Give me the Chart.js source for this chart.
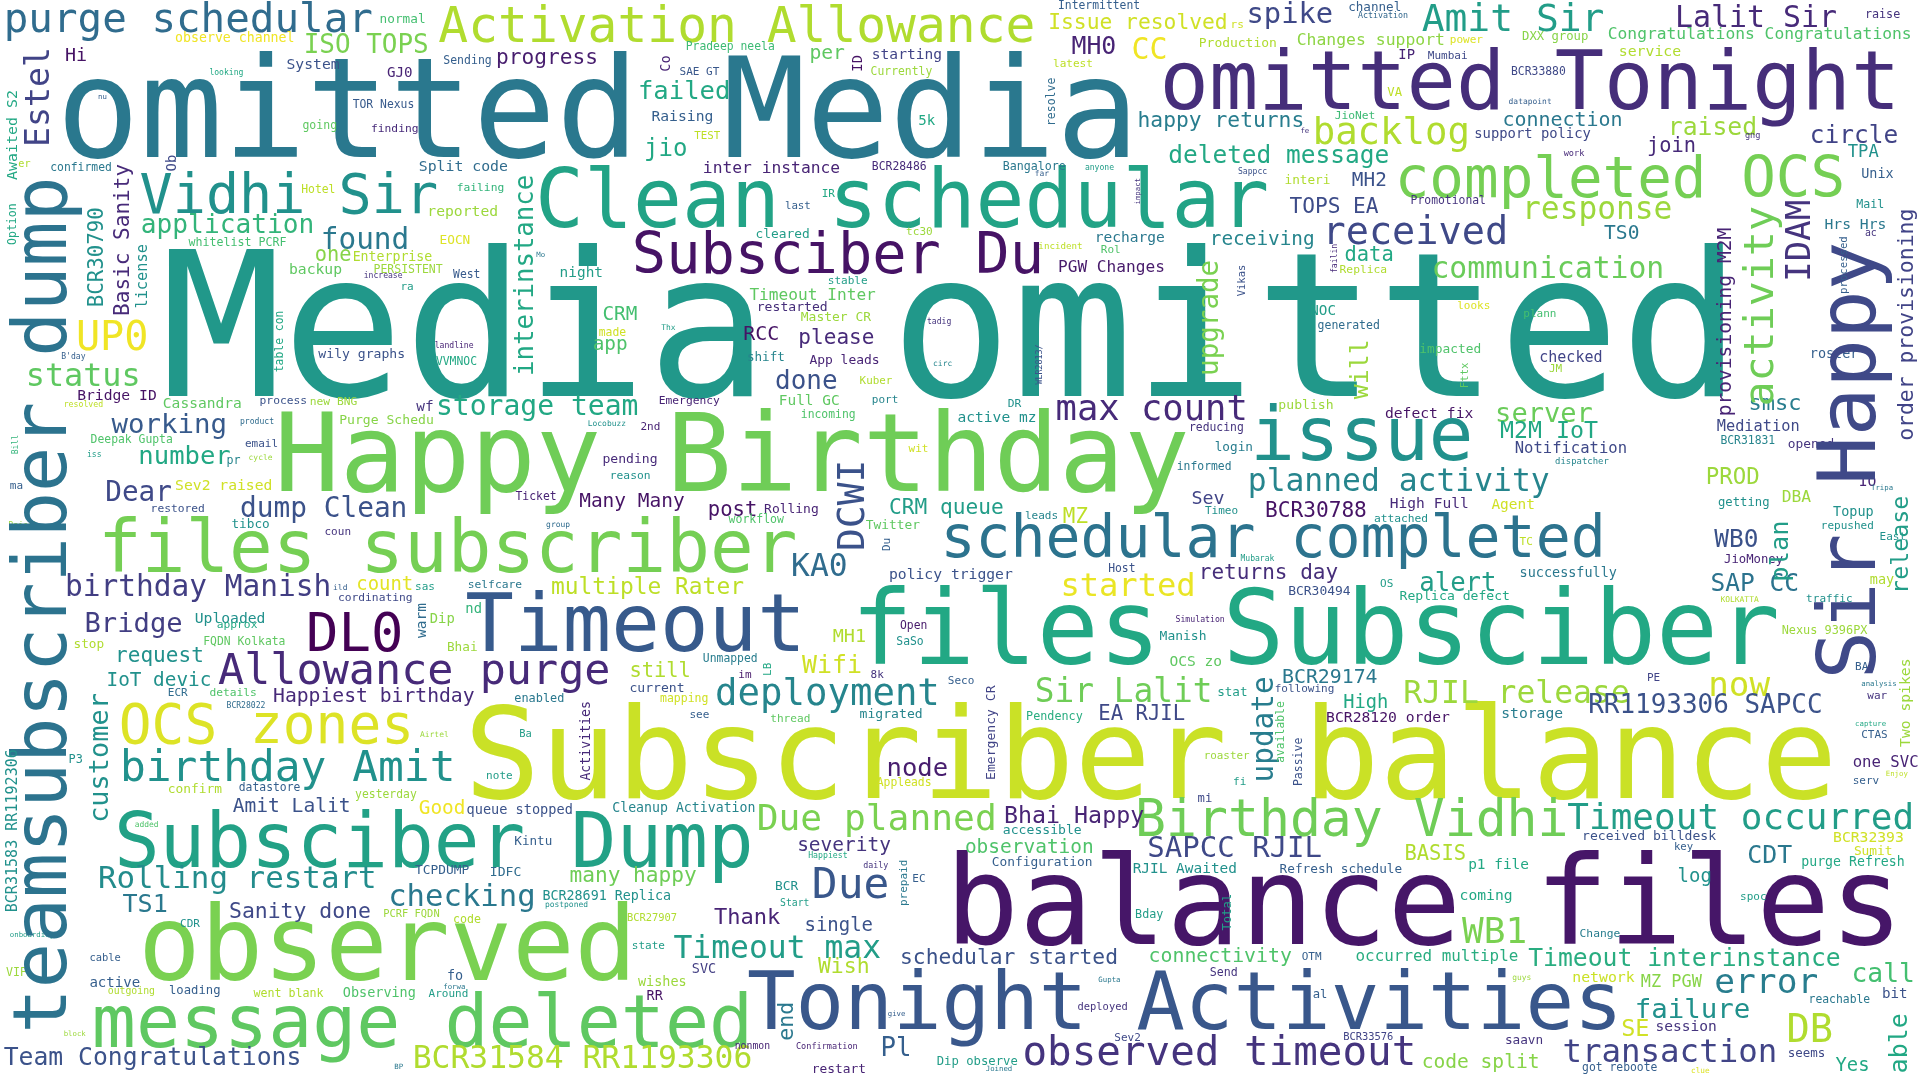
<!DOCTYPE html>
<html>
<head>
<meta charset="utf-8">
<script src="https://cdn.jsdelivr.net/npm/chart.js@4.4.0/dist/chart.umd.min.js"></script>
<style>
html,body{margin:0;padding:0;background:#ffffff;overflow:hidden;}
#c{display:block;}
</style>
</head>
<body>
<canvas id="c" width="1920" height="1080"></canvas>
<script>
// ---- Word cloud data (cloud layout units: 0..1568 wide, 0..882 tall) ----
// Horizontal words
const hWords = [
"Media omitted","omitted Media","Subscriber balance","balance files","Happy Birthday","files Subsciber","observed","omitted Tonight","Clean schedular","Timeout",
"Tonight Activities","Subsciber Dump","issue","files subscriber","message deleted","schedular completed","completed OCS","Subsciber Du","Vidhi Sir","OCS zones",
"DL0","Activation Allowance","Birthday Vidhi","Amit Sir","birthday Amit","Allowance purge","purge schedular","observed timeout","Due","UP0",
"max count","DB","received","backlog","deployment","Due planned","Timeout occurred","WB1","error","now",
"started","Sir Lalit","status","transaction","KA0","planned activity","RJIL release","response","BCR31584 RR1193306","Timeout max",
"Rolling restart","checking","Lalit Sir","communication","birthday Manish","CC","found","SAPCC RJIL","spike","storage team",
"dump Clean","Dear","working","failure","Bridge","server","call","application","done","ISO TOPS",
"RR1193306 SAPCC","alert","failed","number","node","TS1","MH0","CDT","Wifi","Team Congratulations",
"Timeout interinstance","raised","circle","WB0","SAP CC","deleted message","Thank","jio","SE","Bhai Happy",
"M2M IoT","multiple Rater","PROD","smsc","Sanity done","Wish","schedular started","happy returns","Issue resolved","many happy",
"TOPS EA","BCR30788","CRM queue","progress","returns day","please","request","post","EA RJIL","MZ",
"still","BASIS","data","join","one","RCC","connection","connectivity","BCR29174","Happiest birthday",
"per","TS0","code split","Amit Lalit","Many Many","severity","observation","CRM","app","MH2",
"Good","IoT devic","receiving","log","single","count","Yes","High","MH1","Sev",
"Hi","TPA","MZ PGW","Changes support","Congratulations Congratulations","inter instance","DBA","PGW Changes","Timeout Inter","occurred multiple",
"Notification","one SVC","Mediation","checked","service","Split code","network","Hrs Hrs","System","reported",
"backup","Bridge ID","Sev2 raised","defect fix","policy trigger","Raising","Uploaded","BCR32393","coming","storage",
"BCR28120 order","starting","recharge","Cassandra","active mz","High Full","OCS zo","session","GJ0","night",
"Agent","Full GC","p1 file","RJIL Awaited","NOC","bit","5k","active","nd","Dip",
"IP","support policy","queue stopped","successfully","roster","Topup","Unix","may","Observing","fo",
"RR","wishes","SVC","BCR28691 Replica","Cleanup Activation","Enterprise","received billdesk","wily graphs","Purge Schedu","restarted",
"pending","publish","current","migrated","Replica defect","purge Refresh","BCR30494","Manish","Master CR","App leads",
"Rolling","Production","Twitter","cleared","impacted","confirm","TCPDUMP","Sumit","opened","Configuration",
"accessible","Refresh schedule","normal","EOCN","interi","tibco","login","stop","Bhai","saavn",
"channel","shift","stat","Kintu","seems","IDFC","observe channel","getting","JioMoney","DXX group",
"Pendency","enabled","Nexus 9396PX","raise","Mail","Bangalore","P3","going","Sending","PERSISTENT",
"generated","workflow","mapping","whitelist PCRF","confirmed","TOR Nexus","Hotel","West","Pradeep neela","Currently",
"BCR28486","Intermittent","BCR33880","Promotional","VVMNOC","Deepak Gupta","FQDN Kolkata","datastore","yesterday","Unmapped",
"Open","SaSo","Appleads","Ticket","reducing","informed","Host","made","got reboote","reachable",
"BCR31831","finding","failing","process","new BNG","cordinating","approx","details","restored","Emergency",
"reason","JioNet","Replica","attached","Change","selfcare","thread","latest","power","Mumbai",
"SAE GT","stable","tc30","IR","Rol","email","ma","coun","sas","ECR",
"note","Kuber","port","DR","incoming","2nd","wit","leads","Timeo","looks",
"plann","JM","TC","OS","im","8k","Seco","see","following","fi",
"roaster","spoc","key","TEST","last","Ba","Thx","looking","increase","B'day",
"resolved","landline","product","iss","cycle","Rajesh","datapoint","anyone","Sappcc","Activation",
"incident","tadig","circ","Locobuzz","group","Mubarak","Simulation","BCR28022","Airtel","added",
"Happiest","daily","guys","clue","work","fe","far","Mo","nu","er",
"ra","rs","VA","ild","wf","pr","EC","BCR","Start","state",
"BCR27907","postponed","CDR","PCRF FQDN","code","cable","VIP","outgoing","loading","went blank",
"Around","Dip observe","deployed","Sev2","Send","OTM","al","Bday","BCR33576","nonmon",
"Confirmation","restart","Pl","mi","gng","ac","IO","repushed","East","KOLKATTA",
"traffic","BAU","PE","war","CTAS","serv","analysis","capture","Enjoy","Tripa",
"Gupta","Joined","give","onboarding","block","BP","forwa","dispatcher"
];
const hX = [
131,46,379,772,224,695,113,947,437,380,
610,93,1021,80,75,768,1139,516,114,97,
250,358,927,1161,98,178,3,835,663,62,
862,1459,1080,1072,584,618,1280,1194,1400,1395,
866,845,21,1276,646,1019,1146,1243,337,550,
80,317,1368,1169,53,924,262,937,1018,356,
196,86,91,1335,69,1221,1512,115,633,248,
1297,1159,521,113,724,100,875,1427,655,3,
1248,1362,1478,1400,1397,954,583,526,1324,820,
1225,450,1393,1428,187,668,735,929,856,465,
1053,1033,726,405,979,652,94,578,897,868,
514,1147,1098,1345,257,607,1227,938,1047,223,
661,1310,1161,190,473,651,788,492,484,1104,
342,87,988,1370,657,291,1499,1097,680,973,
53,1509,1340,1059,1313,574,1455,864,612,1107,
1237,1513,1402,1257,1322,342,1284,1490,234,349,
236,63,143,1131,726,532,159,1497,1192,1226,
1083,712,894,133,782,1135,955,1352,316,457,
1218,636,1199,925,1070,1537,750,73,380,351,
1142,1204,381,1241,1478,1497,1520,1527,280,365,
528,521,565,443,500,288,1292,260,277,618,
492,1044,514,702,1143,1471,1052,947,654,661,
624,979,707,617,1159,137,339,1514,1460,810,
819,1045,310,359,1049,189,992,60,365,1229,
1101,610,994,420,1460,400,143,1403,1408,1243,
838,420,1455,1523,1516,819,56,247,362,305,
1076,595,539,154,41,288,246,370,560,711,
712,864,1234,1152,356,74,166,195,290,574,
735,732,716,421,971,961,905,489,1292,1477,
1405,303,373,212,253,276,177,171,123,538,
498,1090,1094,1122,1290,382,629,860,1184,1166,
555,676,740,671,899,200,8,265,339,137,
397,702,712,823,654,523,742,837,984,1190,
1244,1265,1241,1127,603,711,774,563,1041,1007,
983,1421,1367,567,641,424,540,171,297,50,
52,355,196,71,203,7,1232,886,1011,1109,
848,757,762,480,446,1013,960,185,343,110,
660,705,1235,1381,1277,1062,845,438,80,15,
327,1005,1133,272,340,185,745,633,637,516,
512,445,147,313,370,73,5,88,138,207,
350,765,880,910,988,1063,1072,927,1097,600,
650,663,719,978,1425,1523,1518,1487,1535,1405,
1475,1515,1345,1525,1520,1513,1520,1515,1540,1528,
897,805,725,8,52,322,362,1270
];
const hY = [
323,128,652,771,401,542,800,89,185,532,
840,708,376,467,855,455,161,223,174,607,
532,34,683,25,638,559,26,870,733,286,
343,851,199,118,576,678,677,770,811,568,
487,573,315,867,470,401,574,179,872,782,
725,740,22,227,487,48,203,700,19,339,
422,409,354,831,516,345,802,190,318,43,
582,483,81,379,634,745,44,705,550,870,
789,110,117,447,483,133,755,127,846,672,
358,485,395,335,750,795,787,104,24,720,
174,422,420,52,473,281,541,421,588,427,
553,702,213,124,213,278,103,786,558,573,
48,195,872,663,414,695,697,261,286,152,
665,560,200,720,760,482,875,578,524,412,
50,128,806,37,32,141,410,222,245,785,
370,626,352,296,46,140,802,187,56,176,
224,327,400,341,473,99,509,688,735,586,
590,48,198,333,345,415,544,842,63,226,
416,331,710,713,257,815,102,806,501,509,
48,113,665,471,292,421,145,477,814,800,
817,805,795,735,663,213,686,292,346,254,
378,334,565,586,490,707,486,523,262,297,
419,38,432,194,288,648,714,698,366,707,
681,713,18.5,199.5,150,431,368,529,532,853,
9,295,568,690,863,715,34,413,460,33,
588,573,518,15,170,139,623,105,52,223,
269,427,573,201,140,88.5,158,227,41,61,
139,7,61,167,298,362,527,646,652,541,
514,527,642,408,352,384,467,274,875,819,
363,108,156,330,331,491,513,568,418,330,
391,97,223,426,765,480,590,55,35,48.5,
61,232,192,161,207,365,399,437,482,568,
636,314,329,332,341,351,369,424,420,252,
259,304,445,479,554,554,559,586,565,641,
620,735,694,113.5,171,602,269.5,61,227,293,
332,284,346,373.5,376,431,85,139,142,15,
203,265,299,348,430,458,508,578,602,675,
701,709,800,876,127,109,144,210,81,136,
237,23,78,482,336,379,720,727,740,775,
752,741,757,749,754,785,797,812,812,814,
814,870,825,850,797,784,815,750,849,857,
857,876,862,655,113,193,397,432,441,492,
492,547,556,571,603,640,560,593,634,400,
802,875,830,765,846,873,808,379
];
// word weight = font size in cloud units
const hSize = [
165,113,103.5,100,88.7,84,84.5,67,66.4,66,
66,62,60.6,59.3,59.8,47.5,47,46.6,45,44.5,
44,40.5,42,31,35,35.5,33.4,33.4,35,32.8,
29,31.6,31.5,30.5,30.5,29.6,29.4,29.4,28.2,28,
26.2,26.8,26,26.5,25.6,25.6,25.6,25.5,25.6,25.6,
25.2,25,24.4,24.3,24.1,24.4,24,23.7,23.5,22.9,
22.7,22.6,22.4,22.4,22.2,22.1,21.5,21.4,21.2,21.2,
21.2,21,20.9,20.9,20.9,20.5,20.3,20.3,20.3,20.2,
20.2,20.2,20,20,20,20,18,19.6,19.2,19,
19,18.7,18.3,18,17.5,17.5,17.4,17.4,17.4,17.3,
17.3,17.3,17.3,17.3,17.2,17.2,17.2,16.8,16.8,17,
16.7,16.7,16.7,16.6,16.6,16.3,16.3,16.2,16.2,16.1,
16.1,16,16,16,15.9,15.9,15.9,15.8,15.8,15.8,
15.8,15.8,15.8,15.5,15.5,15.4,15.4,15.3,15.1,15,
15,14,13.8,13.4,13.3,13.3,13.3,13.2,13.2,13,
12.7,12.8,12.5,12.3,12.1,12.1,12.1,12,12,12,
12,12,12,12,12,12,12,12,12,12,
12,11.9,11.9,11.9,11.9,11.9,11.9,11.9,11.6,11.8,
11.8,11.8,11.8,11.8,11.7,11.6,11.5,11.5,11.3,11.3,
11.3,11.3,11.1,11,11,11,11,11,11,11,
11,11,11,10.9,10.8,10.8,10.7,10.7,10.7,10.7,
10.7,10.7,10.7,10.7,10.7,10.8,10.6,10.6,10.6,10.6,
10.6,10.6,10.5,10.5,10.5,10.5,10.5,10.5,10.5,10.5,
10.7,10.4,10.4,10.4,10.4,10.4,10.4,10.4,10.4,10.4,
10.3,10.3,10.3,10.3,10.2,10.7,10.8,10,10,10,
9.6,9.7,9.7,9.6,9.5,9.5,9.7,9.4,9.4,9.4,
9.4,9.4,9.4,9.5,9.3,9.3,9.3,9.3,9.3,9.3,
9.3,9.3,9.3,9.3,9.3,9.3,9.3,9.3,9.3,9.3,
9.3,9.3,9.3,9.3,9.3,9.3,9.3,9.3,9.3,9.3,
9.3,9.2,9.2,9.2,9.2,9.2,9.2,9.2,9.2,9.2,
9.2,9.2,9.2,9.2,9.2,9.2,9.1,9,9,9,
9,9,9,9,9,9,9,9,9,9,
9,8.9,9,9.2,9.3,9,9,9,9,9,
9,9,9,9,9,9,9,9,9,9,
8.9,9,8.7,8.8,8.8,8.5,6.5,6.6,6.6,6.6,
6.7,6.6,6.6,6.6,6.5,6.6,6.5,6.6,6.6,6.8,
7.5,6.6,6.5,6.5,6.5,6.6,6.7,6.6,6.5,6.5,
6.7,6.8,6.5,6.3,7,6,6.5,6,6,8.3,
9,9,10,6.5,11.8,9.5,9,10.5,8,9,
8.5,6.5,9,8.5,9.5,8.5,9.5,8,10,9.5,
9,10,8.5,9,9.5,9,10,9.6,8.5,8,
7,10.5,21,10,7,8,12,9,9,6.5,
9,9,9,9,9,9,6,6,6,6,
6,6,6,6,6,6,6,7.3
];
// colour-map position (0..1 on viridis) of each word
const hTone = [
.53,.40,.92,.06,.78,.60,.80,.13,.58,.28,
.27,.57,.50,.79,.75,.38,.79,.05,.50,.95,
0,.88,.78,.55,.50,.12,.35,.15,.27,.98,
.12,.88,.22,.88,.45,.80,.55,.80,.42,.93,
.97,.78,.75,.20,.35,.45,.85,.85,.88,.55,
.48,.40,.12,.77,.18,.98,.40,.22,.22,.60,
.25,.22,.28,.50,.18,.77,.70,.65,.25,.80,
.25,.55,.60,.60,.08,.40,.10,.40,.93,.25,
.62,.85,.20,.25,.38,.60,.10,.60,.93,.10,
.60,.90,.85,.42,.22,.88,.25,.42,.93,.78,
.23,.05,.55,.08,.13,.12,.50,.05,.22,.90,
.88,.88,.60,.12,.82,.05,.40,.72,.40,.12,
.75,.40,.82,.25,.05,.15,.72,.70,.72,.25,
.98,.50,.45,.50,.25,.96,.60,.60,.88,.20,
.05,.50,.82,.83,.72,.10,.85,.07,.75,.62,
.22,.10,.22,.20,.88,.35,.92,.40,.25,.85,
.75,.05,.93,.05,.25,.30,.50,.93,.60,.42,
.05,.20,.40,.75,.50,.12,.75,.15,.10,.55,
.93,.75,.60,.50,.55,.25,.60,.30,.65,.82,
.10,.22,.25,.40,.30,.50,.30,.88,.72,.30,
.05,.85,.18,.50,.45,.88,.25,.25,.82,.13,
.12,.85,.25,.45,.60,.60,.25,.50,.85,.10,
.10,.88,.75,.55,.72,.88,.30,.93,.15,.30,
.50,.30,.70,.95,.88,.50,.42,.88,.85,.15,
.30,.45,.55,.30,.22,.35,.98,.50,.10,.82,
.62,.40,.85,.15,.50,.40,.50,.75,.30,.85,
.35,.72,.93,.70,.40,.28,.90,.28,.68,.85,
.12,.30,.22,.15,.60,.72,.75,.30,.85,.42,
.07,.50,.93,.10,.15,.40,.25,.93,.30,.40,
.45,.12,.65,.25,.85,.22,.60,.72,.25,.10,
.50,.68,.88,.50,.42,.40,.75,.90,.95,.22,
.27,.55,.85,.60,.72,.25,.30,.15,.55,.35,
.55,.88,.45,.50,.72,.10,.93,.45,.50,.95,
.70,.85,.90,.55,.07,.15,.30,.30,.25,.55,
.85,.55,.30,.90,.30,.55,.55,.60,.15,.30,
.90,.10,.35,.55,.85,.85,.30,.55,.25,.33,
.90,.15,.45,.50,.35,.55,.10,.35,.85,.72,
.60,.15,.85,.95,.12,.15,.30,.40,.30,.88,
.55,.93,.90,.30,.15,.45,.30,.50,.55,.55,
.88,.50,.50,.85,.88,.30,.85,.88,.30,.88,
.55,.55,.15,.22,.15,.30,.30,.55,.20,.10,
.10,.10,.30,.22,.15,.15,.10,.50,.50,.88,
.50,.30,.20,.15,.30,.30,.40,.60,.90,.40,
.40,.40,.30,.55,.85,.40,.40,.45
];
// Vertical words (read bottom to top); x = baseline, y = start of word
const vWords = [
"teamsubscriber dump","Sir Happy","activity","DCWI","IDAM","Estel","update","upgrade","customer","interinstance",
"plan","will","able","release","order provisioning","end","Basic Sanity","BCR30790","provisioning M2M","license",
"BCR31583 RR1192306","Awaited S2","Two spikes","warm","ID","Ob","Co","Activities","Emergency CR","Option",
"resolve","Passive","available","table con","prepaid","Du","LB","Fttx","processed","Vikas",
"Total","WLR2813/","failin","impact","Bill"
];
const vX = [
53.6,1531,1448,706,1478,40,1040,994.5,88.5,435,
1460,1117.5,1557,1558,1562,648,105,84,1414,120,
13.6,13.6,1560,348,703.7,144,547,482,812.6,13,
861.7,1063.6,1049,231,741,727,630,1199,1508,1017,
1005,851,1092,931,15
];
const vY = [
844,555,332,450,230,120,639,307,672,307,
475,326,876.5,485,360,850,258,251,340,252,
745,147,610,521,58.5,140,58.5,637.5,637,200,
103,642,623,304,740,450,552,317,240,242,
760,314,223,167,371
];
const vSize = [
61.2,66,34,31,27.8,27.1,24,22.5,22,21,
20.7,20.3,20.3,19,17.5,17.7,17.2,17,16,12.5,
12.3,12.2,12,11.9,11.3,11.3,11,10.8,10.7,9.4,
9.4,9.4,9.3,9.3,9,9,9,8.7,8.7,8.6,
10,6.8,6.6,6,6.6
];
const vTone = [
.38,.22,.78,.25,.15,.20,.42,.80,.50,.60,
.55,.85,.60,.55,.20,.40,.12,.50,.10,.50,
.50,.60,.85,.35,.05,.22,.10,.12,.20,.60,
.35,.25,.72,.60,.40,.30,.60,.75,.30,.25,
.55,.25,.12,.15,.65
];

// ---- rendering ----
const VIRIDIS = ['#440154','#482475','#414487','#355f8d','#2a788e','#21918c','#22a884','#44bf70','#7ad151','#bddf26','#fde725'];
function hexRgb(h){return [parseInt(h.substr(1,2),16),parseInt(h.substr(3,2),16),parseInt(h.substr(5,2),16)];}
function viridis(t){
  t=Math.max(0,Math.min(1,t));
  const p=t*10, i=Math.min(9,Math.floor(p)), f=p-i;
  const a=hexRgb(VIRIDIS[i]), b=hexRgb(VIRIDIS[i+1]);
  const c=a.map((v,k)=>Math.round(v+(b[k]-v)*f));
  return 'rgb('+c[0]+','+c[1]+','+c[2]+')';
}
function buildPoints(words,xs,ys,sizes,tones){
  return words.map((w,i)=>({x:xs[i],y:ys[i],word:w,size:sizes[i],tone:tones[i]}));
}
const cloudPlugin = {
  id:'wordCloud',
  afterDatasetsDraw(chart){
    const ctx=chart.ctx, sx=chart.scales.x, sy=chart.scales.y;
    const k=(sx.getPixelForValue(sx.max)-sx.getPixelForValue(sx.min))/(sx.max-sx.min);
    chart.data.datasets.forEach(ds=>{
      ds.data.forEach(pt=>{
        const px=sx.getPixelForValue(pt.x), py=sy.getPixelForValue(pt.y);
        ctx.save();
        ctx.font=(pt.size*k).toFixed(2)+'px "DejaVu Sans Mono", "Liberation Mono", monospace';
        ctx.fillStyle=viridis(pt.tone);
        ctx.textAlign='left';
        ctx.textBaseline='alphabetic';
        ctx.translate(px,py);
        if(ds.vertical) ctx.rotate(-Math.PI/2);
        ctx.fillText(pt.word,0,0);
        ctx.restore();
      });
    });
  }
};
new Chart(document.getElementById('c'),{
  type:'scatter',
  data:{datasets:[
    {label:'horizontal',data:buildPoints(hWords,hX,hY,hSize,hTone),pointRadius:0,vertical:false},
    {label:'vertical',data:buildPoints(vWords,vX,vY,vSize,vTone),pointRadius:0,vertical:true}
  ]},
  options:{
    responsive:false,animation:false,devicePixelRatio:1,
    layout:{padding:0},
    plugins:{legend:{display:false},tooltip:{enabled:false}},
    events:[],
    scales:{
      x:{type:'linear',min:0,max:1568,display:false},
      y:{type:'linear',min:0,max:882,reverse:true,display:false}
    }
  },
  plugins:[cloudPlugin]
});
</script>
</body>
</html>
